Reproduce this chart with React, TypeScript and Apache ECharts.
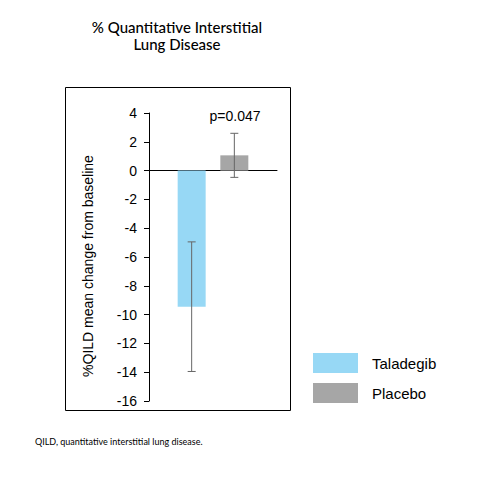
import React, { useEffect, useRef } from "react";
import * as echarts from "echarts";

// slots on the x axis: empty ends give the wide zero line of the original
const categories = ["", "Taladegib", "Placebo", ""];
const groups = ["Taladegib", "Placebo"];
const means = [-9.45, 1.06];
const errors = [4.5, 1.53];
const colors = ["#97d8f5", "#a6a6a6"];
const yMin = -16;
const yMax = 4;
const yStep = 2;

const FONT = "'Liberation Sans', Arial, sans-serif";

const App = () => {
  const chartRef = useRef<HTMLDivElement>(null);

  useEffect(() => {
    if (!chartRef.current) return;
    const chart = echarts.init(chartRef.current, null, { renderer: "svg" });

    const barSeries = groups.map((g, i) => ({
      name: g,
      type: "bar",
      data: categories.map((c) => (c === g ? means[i] : "-")),
      barWidth: 28,
      barGap: "-100%",
      itemStyle: { color: colors[i] },
      z: 2,
    }));

    const errorData = groups.map((g, i) => [
      categories.indexOf(g),
      means[i] - errors[i],
      means[i] + errors[i],
    ]);

    const option: any = {
      animation: false,
      backgroundColor: "#fff",
      grid: { left: 149, right: 203, top: 113, bottom: 79 },
      legend: {
        data: groups,
        orient: "vertical",
        left: 313,
        top: 353,
        padding: 0,
        itemWidth: 45,
        itemHeight: 20,
        itemGap: 10,
        icon: "rect",
        textStyle: {
          fontFamily: FONT,
          fontSize: 15,
          color: "#000",
          padding: [0, 0, 0, 9],
        },
      },
      xAxis: {
        type: "category",
        data: categories,
        boundaryGap: false,
        axisLine: { onZero: true, lineStyle: { color: "#000", width: 1 } },
        axisTick: { show: false },
        axisLabel: { show: false },
        splitLine: { show: false },
      },
      yAxis: {
        type: "value",
        min: yMin,
        max: yMax,
        interval: yStep,
        axisLine: { show: true, lineStyle: { color: "#000", width: 1 } },
        axisTick: { show: true, inside: false, length: 5, lineStyle: { color: "#000" } },
        axisLabel: { fontFamily: FONT, fontSize: 14, color: "#000", margin: 12 },
        splitLine: { show: false },
      },
      series: [
        ...barSeries,
        {
          type: "custom",
          name: "error",
          data: errorData,
          encode: { x: 0, y: [1, 2] },
          z: 5,
          renderItem: (params: any, api: any) => {
            const x = api.value(0);
            const lo = api.coord([x, api.value(1)]);
            const hi = api.coord([x, api.value(2)]);
            const cap = 4;
            const style = { stroke: "#666", lineWidth: 1 };
            return {
              type: "group",
              children: [
                { type: "line", shape: { x1: lo[0], y1: lo[1], x2: hi[0], y2: hi[1] }, style },
                { type: "line", shape: { x1: lo[0] - cap, y1: lo[1], x2: lo[0] + cap, y2: lo[1] }, style },
                { type: "line", shape: { x1: hi[0] - cap, y1: hi[1], x2: hi[0] + cap, y2: hi[1] }, style },
              ],
            };
          },
        },
      ],
      graphic: [
        {
          type: "rect",
          shape: { x: 65.5, y: 87.5, width: 225, height: 323 },
          style: { fill: "none", stroke: "#000", lineWidth: 1 },
          z: 0,
        },
        {
          type: "text",
          x: 177,
          y: 35,
          style: {
            text: "% Quantitative Interstitial\nLung Disease",
            fontFamily: "Lato, sans-serif",
            fontSize: 15,
            fontWeight: 500,
            lineHeight: 17,
            fill: "#000",
            align: "center",
            verticalAlign: "middle",
          },
        },
        {
          type: "text",
          x: 88,
          y: 266,
          rotation: Math.PI / 2,
          style: {
            text: "%QILD mean change from baseline",
            fontFamily: FONT,
            fontSize: 14,
            fill: "#000",
            align: "center",
            verticalAlign: "middle",
          },
        },
        {
          type: "text",
          x: 235,
          y: 116,
          style: {
            text: "p=0.047",
            fontFamily: FONT,
            fontSize: 14,
            fill: "#000",
            align: "center",
            verticalAlign: "middle",
          },
        },
        {
          type: "text",
          x: 35,
          y: 441,
          style: {
            text: "QILD, quantitative interstitial lung disease.",
            fontFamily: "Lato, sans-serif",
            fontSize: 9,
            fill: "#000",
            align: "left",
            verticalAlign: "middle",
          },
        },
      ],
    };

    chart.setOption(option);
    return () => chart.dispose();
  }, []);

  return (
    <div
      ref={chartRef}
      style={{ position: "absolute", left: 0, top: 0, width: 480, height: 480 }}
    />
  );
};

export default App;
